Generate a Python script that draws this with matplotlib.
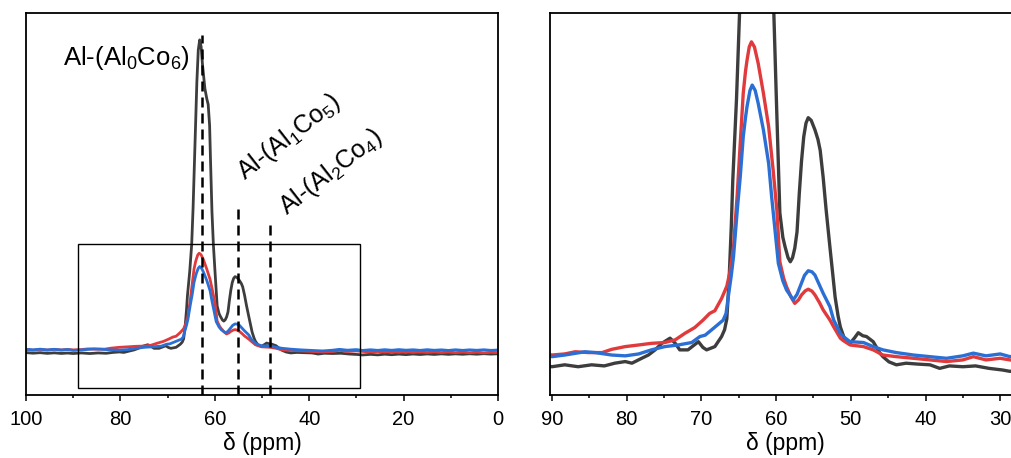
import matplotlib
matplotlib.use("Agg")
import matplotlib.pyplot as plt
from matplotlib.ticker import MultipleLocator
from matplotlib.patches import Rectangle

plt.rcParams["font.family"] = ["Liberation Sans", "DejaVu Sans"]
plt.rcParams["mathtext.fontset"] = "custom"
plt.rcParams["mathtext.rm"] = "Liberation Sans"
plt.rcParams["mathtext.it"] = "Liberation Sans:italic"
plt.rcParams["mathtext.default"] = "regular"

# 27Al NMR spectra (chemical shift in ppm, intensity in arbitrary units)
black_ppm = [100.0, 98.5, 97.0, 95.5, 94.0, 92.5, 91.2, 90.0, 88.3, 86.5, 84.7, 83.0, 81.6,
             80.2, 79.3, 78.0, 77.1, 76.2, 75.3, 74.2, 73.5, 72.9, 71.8, 70.4, 69.8, 69.3,
             68.2, 67.3, 66.9, 66.6, 66.3, 66.0, 65.8, 65.3, 64.9, 64.6, 64.2, 63.8, 63.5,
             63.2, 62.9, 62.6, 62.1, 61.7, 61.4, 61.1, 60.9, 60.6, 60.3, 60.0, 59.5, 59.1,
             58.8, 58.4, 58.1, 57.8, 57.5, 57.2, 56.9, 56.6, 56.3, 56.0, 55.7, 55.3, 54.8,
             54.4, 54.1, 53.7, 53.3, 52.8, 52.4, 52.1, 51.7, 51.4, 50.8, 50.1, 49.5, 49.0,
             48.4, 47.9, 47.0, 46.1, 45.7, 44.9, 43.9, 42.6, 41.2, 39.4, 38.1, 36.8, 35.0,
             33.3, 31.5, 29.7, 28.7, 27.0, 25.5, 24.0, 22.5, 21.0, 19.5, 18.0, 16.5, 15.0,
             13.5, 12.0, 10.5, 9.0, 7.5, 6.0, 4.5, 3.0, 1.5, 0.0]
black_int = [-2.5, -3.2, -2.6, -3.4, -2.8, -3.5, -3.0, -3.6, -2.9, -3.6, -2.9, -3.3, -2.3,
             -1.7, -2.3, -0.5, 0.7, 2.6, 5.0, 6.9, 5.0, 2.6, 2.6, 5.6, 3.5, 2.6,
             3.8, 7.5, 10.0, 14.0, 28.0, 48.0, 65.0, 95.0, 126.0, 170.0, 245.0, 320.0, 358.0,
             370.0, 362.0, 340.0, 312.0, 300.0, 293.0, 268.0, 225.0, 165.0, 126.0, 98.0, 53.0, 44.0,
             40.5, 36.5, 35.0, 36.5, 40.0, 46.0, 60.0, 72.0, 81.0, 86.0, 88.0, 87.0, 83.5,
             80.0, 76.0, 66.0, 54.0, 40.5, 30.0, 22.0, 15.0, 11.0, 6.3, 5.0, 7.0, 8.9,
             7.8, 7.5, 5.6, 1.4, 0.1, -1.8, -2.9, -2.3, -2.6, -2.9, -4.2, -3.3, -3.6,
             -3.3, -4.2, -4.8, -5.3, -4.6, -5.2, -4.4, -5.0, -4.3, -4.9, -4.2, -4.8, -4.1,
             -4.7, -4.0, -4.6, -4.0, -4.5, -3.9, -4.4, -3.8, -4.3, -3.9]

red_ppm = [100.0, 98.5, 97.0, 95.5, 94.0, 92.5, 91.2, 90.0, 88.3, 86.9, 85.1, 83.3, 82.0,
           80.2, 78.4, 76.7, 74.9, 73.5, 72.2, 70.9, 69.8, 68.9, 68.2, 67.3, 66.6, 66.2,
           65.7, 65.2, 64.8, 64.4, 64.1, 63.9, 63.6, 63.3, 62.9, 62.4, 61.7, 61.0, 60.4,
           59.9, 59.5, 59.0, 58.6, 58.0, 57.5, 57.0, 56.6, 56.1, 55.7, 55.2, 54.8, 54.2,
           53.7, 52.8, 52.3, 51.4, 51.0, 50.1, 48.3, 47.0, 45.7, 43.9, 41.6, 39.4, 37.2,
           35.0, 33.6, 31.9, 30.0, 28.7, 27.0, 25.5, 24.0, 22.5, 21.0, 19.5, 18.0, 16.5,
           15.0, 13.5, 12.0, 10.5, 9.0, 7.5, 6.0, 4.5, 3.0, 1.5, 0.0]
red_int = [1.2, 0.4, 1.3, 0.5, 1.4, 0.6, 1.3, 0.7, 1.1, 1.9, 1.6, 1.6, 2.8,
           3.8, 4.4, 5.0, 5.3, 6.3, 8.7, 10.8, 13.5, 16.0, 17.0, 21.5, 26.0, 31.0,
           40.5, 60.0, 78.6, 97.0, 105.0, 109.0, 114.0, 115.9, 114.0, 108.0, 97.0, 84.7, 68.8,
           54.0, 35.0, 29.0, 25.8, 22.0, 19.7, 21.0, 22.8, 24.3, 24.9, 24.2, 22.8, 20.0,
           17.3, 13.6, 11.1, 6.9, 6.0, 4.4, 3.8, 2.6, 0.7, 0.1, -0.5, -1.1, -1.7,
           -1.1, 0.1, -1.1, -0.5, -1.1, -1.8, -1.2, -2.0, -1.4, -2.2, -1.5, -2.3, -1.6,
           -2.4, -1.7, -2.5, -1.8, -2.6, -1.9, -2.7, -2.0, -2.8, -2.1, -2.6]

blue_ppm = [100.0, 98.5, 97.0, 95.5, 94.0, 92.5, 91.2, 90.0, 88.3, 85.6, 84.2, 82.0, 80.2,
            78.4, 76.7, 74.9, 73.1, 71.3, 70.2, 69.5, 68.4, 67.1, 66.7, 66.4, 66.0, 65.7,
            65.2, 64.8, 64.4, 64.1, 63.9, 63.5, 63.2, 62.8, 62.4, 61.7, 61.0, 60.6, 59.7,
            59.1, 58.6, 57.7, 57.2, 56.8, 56.2, 55.7, 55.2, 54.8, 53.7, 52.8, 52.3, 51.4,
            51.0, 50.1, 48.3, 47.0, 45.7, 43.9, 41.6, 39.4, 37.2, 35.0, 33.6, 31.9, 30.0,
            28.7, 27.0, 25.5, 24.0, 22.5, 21.0, 19.5, 18.0, 16.5, 15.0, 13.5, 12.0, 10.5,
            9.0, 7.5, 6.0, 4.5, 3.0, 1.5, 0.0]
blue_int = [1.5, 0.8, 1.6, 0.7, 1.4, 0.6, 1.2, 0.1, 0.7, 1.9, 1.6, 0.7, 0.4,
            1.1, 2.6, 3.8, 4.4, 5.3, 7.5, 8.0, 10.5, 13.5, 16.0, 22.2, 30.0, 37.0,
            54.0, 66.3, 81.0, 88.0, 92.0, 98.0, 100.0, 98.0, 93.3, 83.5, 71.2, 59.0, 34.4,
            28.0, 24.6, 21.0, 23.0, 25.8, 30.0, 31.7, 31.3, 30.1, 23.4, 18.5, 13.6, 8.7,
            7.5, 5.6, 5.3, 3.8, 2.6, 1.6, 0.7, 0.1, -0.5, 0.4, 1.4, 0.4, 1.1,
            0.1, 0.9, 0.2, 1.0, 0.3, 1.1, 0.4, 0.9, 0.2, 1.0, 0.3, 0.8, 0.1,
            0.9, 0.2, 0.8, 0.3, 0.9, 0.2, 0.6]

series = [(black_ppm, black_int, "#3d3d3d"),
          (red_ppm, red_int, "#e03a3c"),
          (blue_ppm, blue_int, "#2b6fd4")]

# peak assignments
peak_ppm = [62.7, 55.0, 48.4]
peak_top = [375.6, 175.6, 150.6]
peak_labels = ["Al-(Al$_0$Co$_6$)", "Al-(Al$_1$Co$_5$)", "Al-(Al$_2$Co$_4$)"]
label_pos = [(78.8, 339.9), (44.2, 254.0), (35.3, 212.5)]
label_rot = [0, 38, 38]

# zoom window shown in the right panel
zoom_ppm = (89.0, 29.3)
zoom_int = (-44.6, 126.8)

W, H = 1012, 458
fig = plt.figure(figsize=(W / 100, H / 100), dpi=100)
ax1 = fig.add_axes([26 / W, 63 / H, 472 / W, 382 / H])
ax2 = fig.add_axes([550 / W, 63 / H, 470 / W, 382 / H])

for ax, lw in ((ax1, 2.0), (ax2, 2.4)):
    for ppm, inten, col in series:
        ax.plot(ppm, inten, color=col, lw=lw, solid_joinstyle="round")
    for s in ax.spines.values():
        s.set_linewidth(1.3)
    ax.set_yticks([])
    ax.tick_params(axis="x", which="major", direction="out", length=4.5, width=1.1,
                   labelsize=14.5, pad=6)
    ax.tick_params(axis="x", which="minor", direction="out", length=2.5, width=1.1)
    ax.set_xlabel("δ (ppm)", fontsize=16.5, labelpad=2.5)

ax1.set_xlim(100, 0)
ax1.set_ylim(-53, 402)
ax1.xaxis.set_major_locator(MultipleLocator(20))
ax1.xaxis.set_minor_locator(MultipleLocator(10))

ax2.set_xlim(90.27, 27.35)
ax2.set_ylim(-14, 126.5)
ax2.xaxis.set_major_locator(MultipleLocator(10))
ax2.xaxis.set_minor_locator(MultipleLocator(5))

y0 = ax1.get_ylim()[0]
for x, top in zip(peak_ppm, peak_top):
    ax1.plot([x, x], [y0, top], color="black", lw=1.8, ls=(0, (4, 2.4)), zorder=5)

for txt, (x, y), rot in zip(peak_labels, label_pos, label_rot):
    if rot == 0:
        ax1.text(x, y, txt, fontsize=18.5, ha="center", va="baseline")
    else:
        ax1.text(x, y, txt, fontsize=18, ha="center", va="center",
                 rotation=rot, rotation_mode="anchor")

ax1.add_patch(Rectangle((zoom_ppm[0], zoom_int[0]), zoom_ppm[1] - zoom_ppm[0],
                        zoom_int[1] - zoom_int[0], fill=False, ec="black", lw=1.0,
                        zorder=6))

fig.savefig("out.png", dpi=100)
